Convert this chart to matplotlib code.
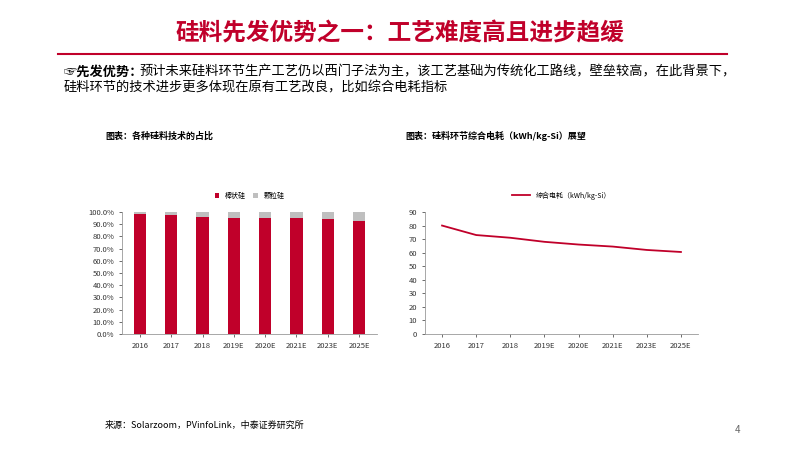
import matplotlib.pyplot as plt
from matplotlib.ticker import PercentFormatter

plt.rcParams['font.family'] = ['Noto Sans CJK SC', 'DejaVu Sans']

years = ['2016', '2017', '2018', '2019E', '2020E', '2021E', '2023E', '2025E']
rod_share = [98.0, 97.5, 96.0, 95.0, 95.0, 95.0, 94.0, 93.0]
granular_share = [2.0, 2.5, 4.0, 5.0, 5.0, 5.0, 6.0, 7.0]
power_use = [80, 73, 71, 68, 66, 64.5, 62, 60.5]

RED = '#c0002a'
GREY = '#bfbfbf'

fig = plt.figure(figsize=(8, 4.5), dpi=100)
W, H = 800, 450

def fy(y):
    return 1 - y / H

fig.text(0.5, fy(33), '硅料先发优势之一：工艺难度高且进步趋缓', ha='center', va='center',
         fontsize=17, fontweight='bold', color=RED)
fig.add_artist(plt.Line2D([58 / W, 727 / W], [fy(54), fy(54)], color=RED, lw=1.5))
fig.text(64 / W, fy(72), '☞先发优势：', ha='left', va='center', fontsize=9.5, fontweight='bold')
fig.text(140 / W, fy(72), '预计未来硅料环节生产工艺仍以西门子法为主，该工艺基础为传统化工路线，壁垒较高，在此背景下，',
         ha='left', va='center', fontsize=9.5)
fig.text(64 / W, fy(88), '硅料环节的技术进步更多体现在原有工艺改良，比如综合电耗指标',
         ha='left', va='center', fontsize=9.5)
fig.text(105 / W, fy(136), '图表：各种硅料技术的占比', ha='left', va='center', fontsize=6.5, fontweight='bold')
fig.text(405 / W, fy(136), '图表：硅料环节综合电耗（kWh/kg-Si）展望', ha='left', va='center', fontsize=6.5, fontweight='bold')
fig.text(105 / W, fy(425), '来源：Solarzoom，PVinfoLink，中泰证券研究所', ha='left', va='center', fontsize=6.5)
fig.text(735 / W, fy(430), '4', ha='left', va='center', fontsize=7, color='#666666')

# left: stacked bars
ax1 = fig.add_axes([122 / W, fy(334), 255 / W, 122 / H])
ax1.bar(years, rod_share, width=0.4, color=RED, label='棒状硅')
ax1.bar(years, granular_share, width=0.4, bottom=rod_share, color=GREY, label='颗粒硅')
ax1.set_ylim(0, 100)
ax1.set_yticks(range(0, 101, 10))
ax1.yaxis.set_major_formatter(PercentFormatter(decimals=1))
ax1.legend(loc='lower center', bbox_to_anchor=(0.5, 1.05), ncol=2, frameon=False,
           fontsize=5, handlelength=0.7, handleheight=0.7, columnspacing=1)

# right: line
ax2 = fig.add_axes([425 / W, fy(334), 273 / W, 122 / H])
ax2.plot(years, power_use, color=RED, lw=1.3, label='综合电耗（kWh/kg-Si）')
ax2.set_ylim(0, 90)
ax2.set_yticks(range(0, 91, 10))
ax2.set_xlim(-0.5, len(years) - 0.5)
ax2.legend(loc='lower center', bbox_to_anchor=(0.5, 1.05), frameon=False,
           fontsize=5, handlelength=2.5)

for ax in (ax1, ax2):
    for s in ('top', 'right'):
        ax.spines[s].set_visible(False)
    for s in ('left', 'bottom'):
        ax.spines[s].set_color('#999999')
        ax.spines[s].set_linewidth(0.6)
    ax.tick_params(labelsize=5.5, colors='#333333', length=2, width=0.5)

fig.savefig('out.png', dpi=100)
